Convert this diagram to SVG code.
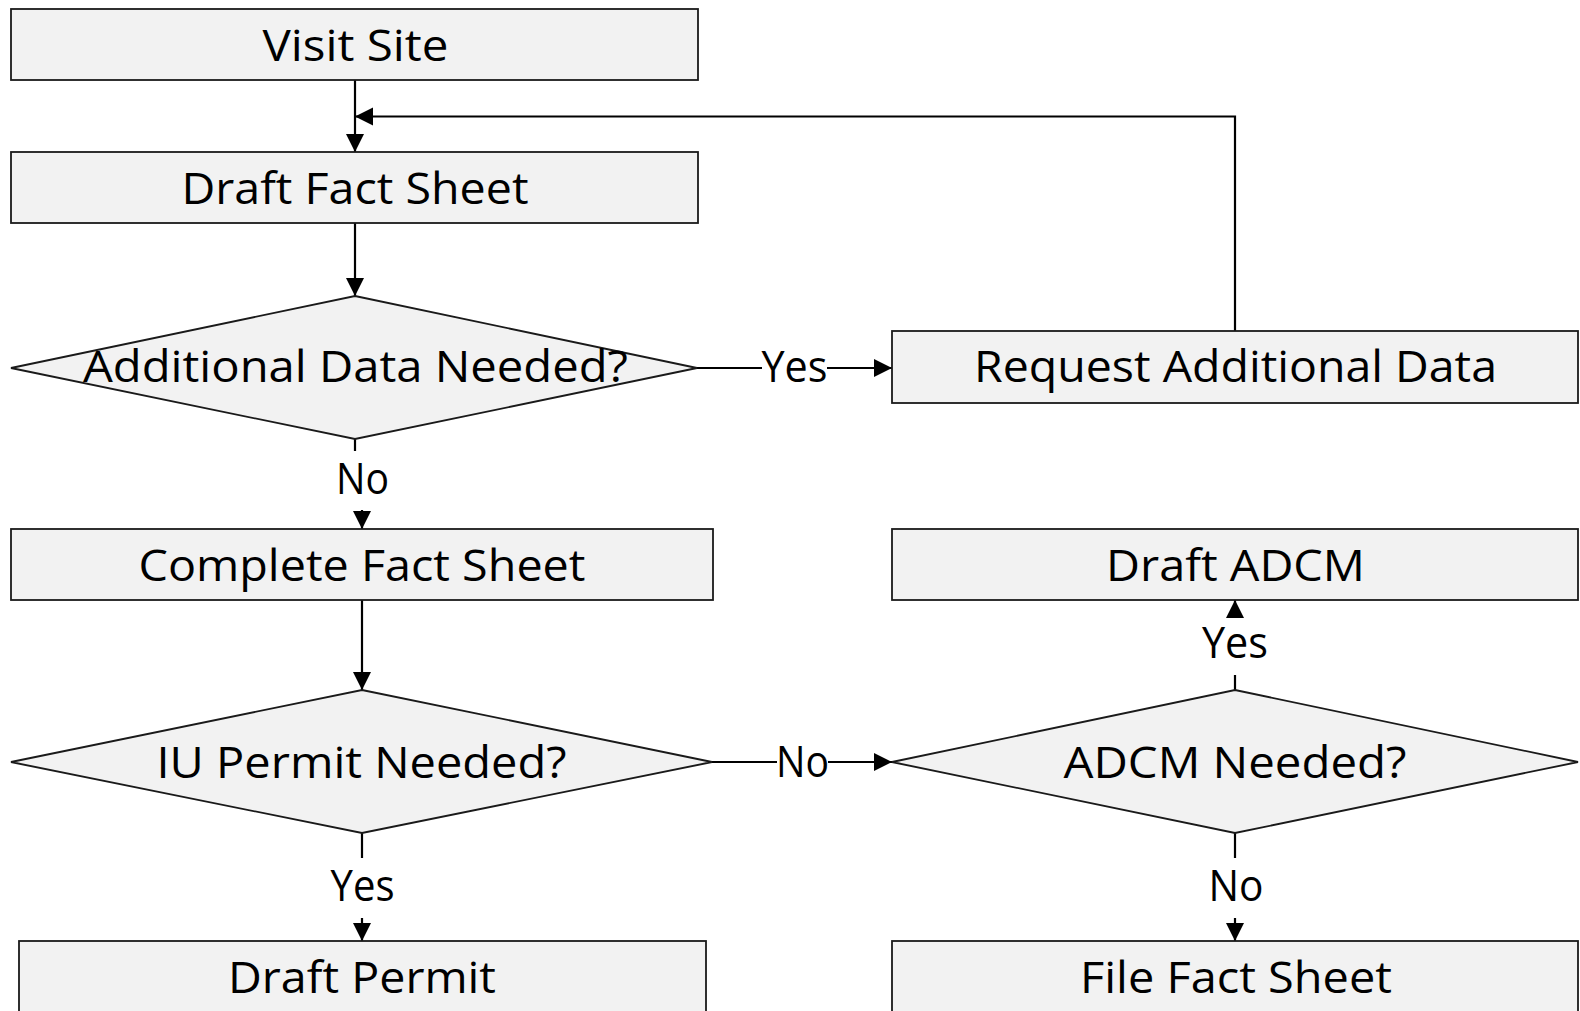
<svg xmlns="http://www.w3.org/2000/svg" width="1580" height="1011" viewBox="0 0 1580 1011">
  <style>
    .box { fill: #f2f2f2; stroke: #1a1a1a; stroke-width: 1.8; }
    .txt { font-family: "Open Sans", "Noto Sans", "Liberation Sans", sans-serif; font-size: 44px; fill: #000; text-anchor: middle; }
    .lbl { font-family: "Open Sans", "Noto Sans", "Liberation Sans", sans-serif; font-size: 43px; fill: #000; text-anchor: middle; }
    .edge { fill: none; stroke: #000; stroke-width: 2.2; }
    .arrow { marker-end: url(#head); }
  </style>
  <defs>
    <marker id="head" markerUnits="userSpaceOnUse" markerWidth="19" markerHeight="19" refX="18" refY="9" orient="auto">
      <path d="M0,0 L18,9 L0,18 Z" fill="#000"/>
    </marker>
  </defs>
  <rect width="1580" height="1011" fill="#fff"/>

  <!-- connectors -->
  <g id="connectors">
    <path class="edge arrow" d="M355,80 V152"/>
    <path class="edge arrow" d="M355,223 V296"/>
    <path class="edge arrow" d="M697,368 H762 M827,368 H892"/>
    <path class="edge arrow" d="M1235,331 V116.5 H355"/>
    <path class="edge arrow" d="M355,439 V451 M362,510 V529"/>
    <path class="edge arrow" d="M362,600 V690"/>
    <path class="edge arrow" d="M712,762 H777 M828,762 H892"/>
    <path class="edge arrow" d="M362,833 V858 M362,918 V941"/>
    <path class="edge arrow" d="M1235,690 V675 M1235,617 V600"/>
    <path class="edge arrow" d="M1235,833 V858 M1235,918 V941"/>
    <text class="lbl" x="794.5" y="381.5" textLength="66" lengthAdjust="spacingAndGlyphs">Yes</text>
    <text class="lbl" x="362.5" y="494" textLength="53" lengthAdjust="spacingAndGlyphs">No</text>
    <text class="lbl" x="802.5" y="776.5" textLength="53" lengthAdjust="spacingAndGlyphs">No</text>
    <text class="lbl" x="362.5" y="901" textLength="64" lengthAdjust="spacingAndGlyphs">Yes</text>
    <text class="lbl" x="1235" y="658" textLength="66" lengthAdjust="spacingAndGlyphs">Yes</text>
    <text class="lbl" x="1236" y="900.5" textLength="55" lengthAdjust="spacingAndGlyphs">No</text>
  </g>

  <g id="visit-site">
    <rect class="box" x="11" y="9" width="687" height="71"/>
    <text class="txt" x="355.5" y="61" textLength="186" lengthAdjust="spacingAndGlyphs">Visit Site</text>
  </g>
  <g id="draft-fact-sheet">
    <rect class="box" x="11" y="152" width="687" height="71"/>
    <text class="txt" x="355" y="203.5" textLength="347" lengthAdjust="spacingAndGlyphs">Draft Fact Sheet</text>
  </g>
  <g id="additional-data-needed">
    <polygon class="box" points="355,296 697,368 355,439 11,368"/>
    <text class="txt" x="355.5" y="382" textLength="545" lengthAdjust="spacingAndGlyphs">Additional Data Needed?</text>
  </g>
  <g id="request-additional-data">
    <rect class="box" x="892" y="331" width="686" height="72"/>
    <text class="txt" x="1235.5" y="382" textLength="523" lengthAdjust="spacingAndGlyphs">Request Additional Data</text>
  </g>
  <g id="complete-fact-sheet">
    <rect class="box" x="11" y="529" width="702" height="71"/>
    <text class="txt" x="362" y="580.5" textLength="447" lengthAdjust="spacingAndGlyphs">Complete Fact Sheet</text>
  </g>
  <g id="draft-adcm">
    <rect class="box" x="892" y="529" width="686" height="71"/>
    <text class="txt" x="1235.5" y="580.5" textLength="259" lengthAdjust="spacingAndGlyphs">Draft ADCM</text>
  </g>
  <g id="iu-permit-needed">
    <polygon class="box" points="362,690 712,762 362,833 11,762"/>
    <text class="txt" x="361.5" y="777.5" textLength="410" lengthAdjust="spacingAndGlyphs">IU Permit Needed?</text>
  </g>
  <g id="adcm-needed">
    <polygon class="box" points="1235,690 1578,762 1235,833 892,762"/>
    <text class="txt" x="1235" y="777.5" textLength="343" lengthAdjust="spacingAndGlyphs">ADCM Needed?</text>
  </g>
  <g id="draft-permit">
    <rect class="box" x="19" y="941" width="687" height="75"/>
    <text class="txt" x="362" y="993" textLength="268" lengthAdjust="spacingAndGlyphs">Draft Permit</text>
  </g>
  <g id="file-fact-sheet">
    <rect class="box" x="892" y="941" width="686" height="75"/>
    <text class="txt" x="1236" y="993" textLength="312" lengthAdjust="spacingAndGlyphs">File Fact Sheet</text>
  </g>
</svg>
